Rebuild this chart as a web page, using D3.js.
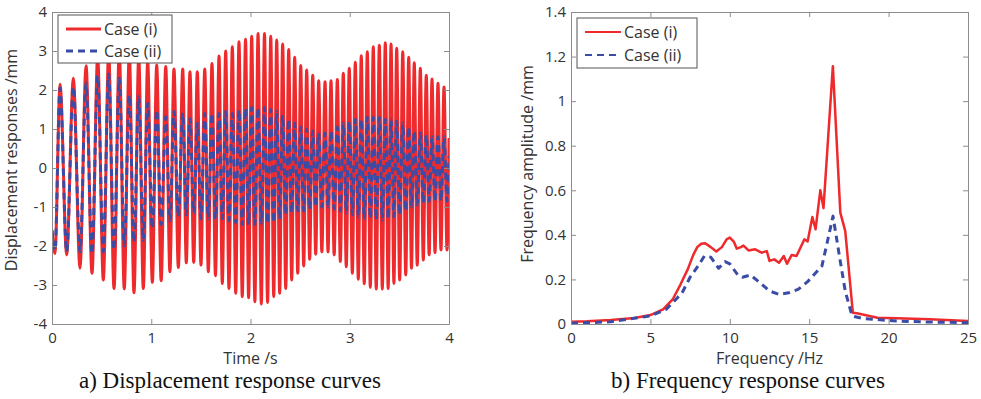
<!DOCTYPE html>
<html>
<head>
<meta charset="utf-8">
<script src="https://cdn.jsdelivr.net/npm/d3@7"></script>
<style>
  body { margin: 0; background: #fff; }
  svg { display: block; font-family: "Open Sans", sans-serif; }
</style>
</head>
<body>
<svg id="chart" width="981" height="399"></svg>
<script>
// ---- data ----
// a) displacement: times of successive extrema (s), value at each extremum (mm)
const timeS = [
  0, 0.030, 0.081, 0.148, 0.215, 0.282, 0.343, 0.403, 0.460, 0.517,
  0.571, 0.625, 0.678, 0.728, 0.779, 0.826, 0.874, 0.920, 0.964, 1.011,
  1.055, 1.100, 1.146, 1.188, 1.229, 1.273, 1.317, 1.353, 1.390, 1.428,
  1.464, 1.501, 1.539, 1.575, 1.612, 1.647, 1.683, 1.716, 1.750, 1.783,
  1.817, 1.851, 1.884, 1.917, 1.950, 1.981, 2.012, 2.044, 2.076, 2.109,
  2.141, 2.172, 2.204, 2.234, 2.264, 2.294, 2.324, 2.355, 2.385, 2.415,
  2.445, 2.476, 2.506, 2.536, 2.566, 2.596, 2.627, 2.657, 2.687, 2.719,
  2.751, 2.781, 2.811, 2.843, 2.875, 2.905, 2.935, 2.965, 2.995, 3.026,
  3.056, 3.086, 3.116, 3.146, 3.177, 3.207, 3.237, 3.267, 3.298, 3.328,
  3.358, 3.387, 3.416, 3.445, 3.473, 3.503, 3.534, 3.564, 3.594, 3.622,
  3.650, 3.680, 3.711, 3.741, 3.771, 3.800, 3.829, 3.859, 3.889, 3.919,
  3.950, 3.980, 4.000
];
const dispCaseI = [
  -1.6, -2.19, 2.15, -2.23, 2.30, -2.57, 2.62, -2.70, 2.85, -2.87,
  2.95, -3.09, 3.00, -3.10, 2.95, -3.20, 2.85, -3.09, 2.73, -2.93,
  2.64, -2.89, 2.60, -2.66, 2.54, -2.55, 2.54, -2.43, 2.47, -2.42,
  2.47, -2.49, 2.54, -2.66, 2.68, -2.76, 2.87, -2.96, 3.00, -3.09,
  3.11, -3.21, 3.24, -3.30, 3.30, -3.33, 3.38, -3.43, 3.45, -3.49,
  3.45, -3.45, 3.38, -3.30, 3.28, -3.21, 3.18, -3.09, 3.04, -2.87,
  2.84, -2.70, 2.63, -2.51, 2.51, -2.34, 2.38, -2.21, 2.24, -2.15,
  2.21, -2.15, 2.24, -2.23, 2.27, -2.40, 2.43, -2.53, 2.56, -2.70,
  2.71, -2.85, 2.88, -2.97, 2.98, -3.06, 3.11, -3.10, 3.15, -3.10,
  3.21, -3.09, 3.18, -2.96, 3.07, -2.87, 2.98, -2.74, 2.84, -2.57,
  2.70, -2.49, 2.56, -2.36, 2.38, -2.23, 2.28, -2.17, 2.17, -2.10,
  2.08, -2.10, 0.77
];
const dispCaseII = [
  -1.6, -2.12, 2.05, -2.15, 2.08, -2.15, 2.17, -2.20, 2.36, -2.15,
  2.41, -2.10, 2.30, -2.00, 1.87, -1.90, 1.83, -1.85, 1.66, -1.55,
  1.49, -1.45, 1.32, -1.35, 1.45, -1.25, 1.41, -1.20, 1.27, -1.15,
  1.15, -1.30, 1.40, -1.30, 1.40, -1.30, 1.40, -1.30, 1.45, -1.35,
  1.40, -1.40, 1.49, -1.45, 1.53, -1.45, 1.55, -1.45, 1.55, -1.42,
  1.55, -1.42, 1.50, -1.40, 1.45, -1.30, 1.35, -1.20, 1.25, -1.15,
  1.15, -1.10, 1.05, -1.10, 1.00, -1.05, 0.95, -1.00, 0.90, -1.00,
  0.90, -1.00, 0.95, -1.05, 1.05, -1.10, 1.15, -1.15, 1.20, -1.20,
  1.25, -1.25, 1.25, -1.30, 1.30, -1.30, 1.30, -1.33, 1.30, -1.33,
  1.25, -1.30, 1.25, -1.25, 1.20, -1.20, 1.15, -1.10, 1.05, -1.00,
  0.95, -0.95, 0.90, -0.90, 0.85, -0.85, 0.80, -0.85, 0.80, -0.85,
  0.80, -0.85, 0.30
];

// b) frequency response
const freqCaseI = [0, 1, 2.5, 4, 5, 5.8, 6.4, 6.9, 7.35, 7.7, 7.95, 8.2, 8.45, 8.8, 9.15, 9.5, 9.8, 10.0,
  10.25, 10.44, 10.7, 10.86, 11.18, 11.6, 12.0, 12.33, 12.5, 12.8, 13.1, 13.4, 13.6, 13.9, 14.2, 14.7,
  14.9, 15.2, 15.4, 15.7, 15.9, 16.49, 16.96, 17.27, 17.75, 18.0, 19.3, 20.5, 22.6, 25];
const ampCaseI = [0.010, 0.012, 0.018, 0.027, 0.040, 0.066, 0.11, 0.178, 0.245, 0.31, 0.345, 0.36, 0.362, 0.345, 0.325, 0.345, 0.38, 0.388,
  0.37, 0.338, 0.345, 0.352, 0.33, 0.335, 0.32, 0.327, 0.283, 0.29, 0.275, 0.305, 0.27, 0.31, 0.305, 0.38,
  0.37, 0.48, 0.425, 0.60, 0.52, 1.157, 0.50, 0.417, 0.05, 0.048, 0.028, 0.026, 0.021, 0.013];
const freqCaseII = [0, 2.5, 5, 6, 7, 7.5, 8, 8.4, 8.8, 9.3, 9.7, 10.0, 10.5, 10.8, 11.3, 11.9, 12.5, 13.1,
  13.7, 14.3, 14.9, 15.5, 15.8, 16.2, 16.5, 16.7, 16.96, 17.27, 17.7, 18.4, 20.5, 22.6, 25];
const ampCaseII = [0.003, 0.01, 0.036, 0.066, 0.14, 0.21, 0.26, 0.305, 0.30, 0.25, 0.28, 0.27, 0.22, 0.21, 0.22, 0.185, 0.148, 0.133,
  0.14, 0.155, 0.19, 0.237, 0.26, 0.387, 0.484, 0.395, 0.28, 0.148, 0.036, 0.025, 0.013, 0.009, 0.006];

const timeTicks = [0, 1, 2, 3, 4];
const dispTicks = [-4, -3, -2, -1, 0, 1, 2, 3, 4];
const freqTicks = [0, 5, 10, 15, 20, 25];
const ampTicks = [0, 0.2, 0.4, 0.6, 0.8, 1, 1.2, 1.4];
const caseNames = ['Case (i)', 'Case (ii)'];

const RED = '#ee2a2d';
const BLUE = '#3b4ca6';
const AXIS = '#8c8c8c';
const TEXT = '#333';

const svg = d3.select('#chart');
const defs = svg.append('defs');

function drawPanel(cfg) {
  const { x, y } = cfg;
  const [x0, x1] = x.range();
  const [yB, yT] = y.range();
  const g = svg.append('g');

  defs.append('clipPath').attr('id', cfg.id + '-clip')
    .append('rect')
    .attr('x', x0).attr('y', yT)
    .attr('width', x1 - x0).attr('height', yB - yT);

  const plot = g.append('g').attr('clip-path', `url(#${cfg.id}-clip)`);
  cfg.series.forEach(s => {
    const line = d3.line()
      .x(d => x(d[0]))
      .y(d => y(d[1]))
      .curve(cfg.curve);
    plot.append('path')
      .datum(d3.zip(s.xs, s.ys))
      .attr('d', line)
      .attr('fill', 'none')
      .attr('stroke', s.color)
      .attr('stroke-width', s.width)
      .attr('stroke-dasharray', s.dash || null)
      .attr('stroke-linejoin', 'round');
  });

  // box with inward ticks on every side (matlab style)
  const fmt = d => String(+d.toFixed(1));
  const axes = [
    [d3.axisBottom(x).tickValues(cfg.xTicks), `translate(0,${yB})`, true],
    [d3.axisTop(x).tickValues(cfg.xTicks), `translate(0,${yT})`, false],
    [d3.axisLeft(y).tickValues(cfg.yTicks), `translate(${x0},0)`, true],
    [d3.axisRight(y).tickValues(cfg.yTicks), `translate(${x1},0)`, false]
  ];
  axes.forEach(([axis, tr, labelled], i) => {
    axis.tickSizeInner(-5).tickSizeOuter(0).tickPadding(i === 0 ? 8 : 5);
    axis.tickFormat(labelled ? fmt : () => '');
    const a = g.append('g').attr('transform', tr).call(axis);
    a.select('.domain').attr('stroke', AXIS);
    a.selectAll('.tick line').attr('stroke', AXIS);
    a.selectAll('.tick text')
      .attr('fill', TEXT)
      .style('font-family', '"Open Sans", sans-serif')
      .style('font-size', '15px');
  });

  g.append('text')
    .attr('x', (x0 + x1) / 2).attr('y', 364)
    .attr('text-anchor', 'middle')
    .attr('fill', TEXT).style('font-size', '16px')
    .text(cfg.xLabel);

  g.append('text')
    .attr('transform', `translate(${cfg.yLabelX},${cfg.yLabelY}) rotate(-90)`)
    .attr('text-anchor', 'middle')
    .attr('fill', TEXT).style('font-size', '16px')
    .text(cfg.yLabel);

  g.append('text')
    .attr('x', cfg.captionX).attr('y', 388)
    .attr('text-anchor', 'middle')
    .attr('fill', '#111')
    .style('font-family', '"Liberation Serif", "Times New Roman", serif')
    .style('font-size', '23px')
    .text(cfg.caption);

  // legend
  const L = cfg.legend;
  const lg = g.append('g');
  lg.append('rect')
    .attr('x', L.x).attr('y', L.y).attr('width', L.w).attr('height', L.h)
    .attr('fill', '#fff').attr('stroke', '#555').attr('stroke-width', 1);
  cfg.series.forEach((s, i) => {
    const ry = L.y + L.row0 + i * L.rowGap;
    lg.append('line')
      .attr('x1', L.x + 8).attr('x2', L.x + 8 + L.lineLen)
      .attr('y1', ry).attr('y2', ry)
      .attr('stroke', s.color).attr('stroke-width', L.lineWidth)
      .attr('stroke-dasharray', s.dash || null);
    lg.append('text')
      .attr('x', L.x + 11 + L.lineLen).attr('y', ry)
      .attr('dy', '0.35em')
      .attr('fill', TEXT).style('font-size', '16px')
      .text(caseNames[i]);
  });
}

drawPanel({
  id: 'disp',
  x: d3.scaleLinear().domain([0, 4]).range([52, 449]),
  y: d3.scaleLinear().domain([-4, 4]).range([324, 12]),
  xTicks: timeTicks,
  yTicks: dispTicks,
  curve: d3.curveMonotoneX,
  series: [
    { xs: timeS, ys: dispCaseI, color: RED, width: 3 },
    { xs: timeS, ys: dispCaseII, color: BLUE, width: 3, dash: '7,5' }
  ],
  xLabel: 'Time /s',
  yLabel: 'Displacement responses /mm',
  yLabelX: 17, yLabelY: 160,
  caption: 'a) Displacement response curves',
  captionX: 230,
  legend: { x: 58, y: 15, w: 114, h: 48, row0: 14, rowGap: 22, lineLen: 35, lineWidth: 3 }
});

drawPanel({
  id: 'freq',
  x: d3.scaleLinear().domain([0, 25]).range([571, 968]),
  y: d3.scaleLinear().domain([0, 1.4]).range([324, 12]),
  xTicks: freqTicks,
  yTicks: ampTicks,
  curve: d3.curveLinear,
  series: [
    { xs: freqCaseI, ys: ampCaseI, color: RED, width: 2.5 },
    { xs: freqCaseII, ys: ampCaseII, color: BLUE, width: 3, dash: '7,5' }
  ],
  xLabel: 'Frequency /Hz',
  yLabel: 'Frequency amplitude /mm',
  yLabelX: 533, yLabelY: 164,
  caption: 'b) Frequency response curves',
  captionX: 748,
  legend: { x: 577, y: 18, w: 120, h: 50, row0: 14, rowGap: 23, lineLen: 36, lineWidth: 2 }
});
</script>
</body>
</html>
